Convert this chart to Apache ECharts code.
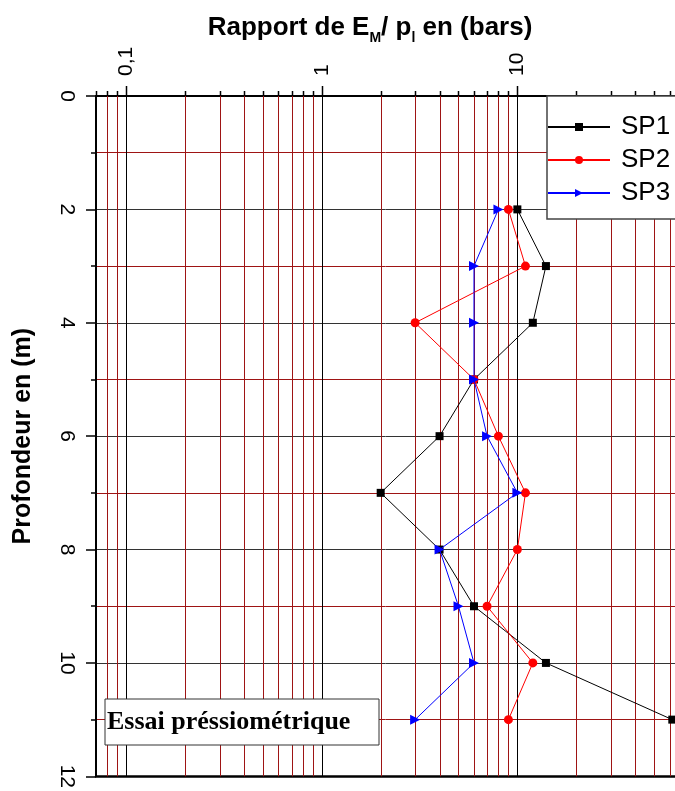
<!DOCTYPE html>
<html><head><meta charset="utf-8">
<script src="https://cdn.jsdelivr.net/npm/echarts@6/dist/echarts.min.js"></script>
<style>html,body{margin:0;padding:0;background:#fff}#c{width:675px;height:791px}</style>
</head><body><div id="c"></div>
<script>
// depth (m)
const depths = [2, 3, 4, 5, 6, 7, 8, 9, 10, 11];
// E_M / p_l ratios
const sp1 = [10, 14, 12, 6, 4, 2, 4, 6, 14, 62];
const sp2 = [9, 11, 3, 6, 8, 11, 10, 7, 12, 9];
const sp3 = [8, 6, 6, 6, 7, 10, 4, 5, 6, 3];
const seriesNames = ['SP1', 'SP2', 'SP3'];
// top axis tick labels (decades)
const xTickValues = [0.1, 1, 10];
const xTickLabels = ['0,1', '1', '10'];
// minor logarithmic grid values
const xMinorValues = [0.07, 0.08, 0.09, 0.2, 0.3, 0.4, 0.5, 0.6, 0.7, 0.8, 0.9,
  2, 3, 4, 5, 6, 7, 8, 9, 20, 30, 40, 50, 60];
// visible range of the (cropped) log axis
const xMin = 0.07, xMax = 64;
const depthMin = 0, depthMax = 12, depthStep = 2;

const chart = echarts.init(document.getElementById('c'), null, {renderer: 'canvas'});
const FONT = '"Liberation Sans", Arial, sans-serif';
const RED = '#9e1414';

function fmtX(v) {
  for (let i = 0; i < xTickValues.length; i++) {
    if (Math.abs(v - xTickValues[i]) / xTickValues[i] < 1e-6) return xTickLabels[i];
  }
  return '';
}
function pairs(vals) { return depths.map((d, i) => [vals[i], d]); }

const gridData = xMinorValues.map(v => [v, depthMin, 0]).concat(xTickValues.map(v => [v, depthMin, 1]));

const option = {
  animation: false,
  backgroundColor: '#fff',
  grid: {left: 96, top: 96, bottom: 11, right: 0, containLabel: false},
  xAxis: [{
    type: 'log', logBase: 10, position: 'top', min: xMin, max: xMax,
    axisLine: {show: true, onZero: false, lineStyle: {color: '#000', width: 2}},
    axisTick: {show: false},
    splitLine: {show: false},
    axisLabel: {rotate: -90, margin: 20, fontSize: 21, color: '#000', fontFamily: FONT,
      formatter: fmtX, showMinLabel: false, showMaxLabel: false}
  }, {
    type: 'log', logBase: 10, position: 'bottom', min: xMin, max: xMax,
    axisLine: {show: true, onZero: false, lineStyle: {color: '#000', width: 2.5}},
    axisTick: {show: false}, axisLabel: {show: false}, splitLine: {show: false}
  }],
  yAxis: {
    type: 'value', inverse: true, min: depthMin, max: depthMax, interval: depthStep,
    axisLine: {show: true, onZero: false, lineStyle: {color: '#000', width: 2}},
    axisTick: {show: true, length: 10, lineStyle: {color: '#000', width: 1.5}},
    minorTick: {show: true, splitNumber: 2, length: 5, lineStyle: {color: '#000', width: 1.5}},
    splitLine: {show: true, lineStyle: {color: '#333', width: 1}},
    minorSplitLine: {show: true, lineStyle: {color: RED, width: 1}},
    axisLabel: {rotate: -90, margin: 19, fontSize: 21, color: '#000', fontFamily: FONT},
    name: 'Profondeur en (m)', nameLocation: 'middle', nameGap: 60, nameRotate: 90,
    nameTextStyle: {fontSize: 25, fontWeight: 'bold', color: '#000', fontFamily: FONT}
  },
  legend: {
    data: seriesNames, orient: 'vertical', left: 547, top: 96,
    backgroundColor: '#fff', borderColor: '#444', borderWidth: 1.5, borderRadius: 0,
    padding: [15, 40, 10, 0], itemGap: 1, itemWidth: 62, itemHeight: 10,
    textStyle: {fontSize: 26, lineHeight: 32, color: '#000', fontFamily: FONT, padding: [0, 0, 0, 6]},
    selectedMode: false
  },
  series: [{
    type: 'custom', silent: true, z: 1, clip: false,
    data: gridData,
    encode: {x: 0, y: 1},
    renderItem: function (params, api) {
      const v = api.value(0);
      const major = api.value(2) === 1;
      const top = api.coord([v, depthMin]);
      const bot = api.coord([v, depthMax]);
      const x = Math.round(top[0]) + 0.5;
      const children = [];
      if (v > xMin * 1.0001) {
        children.push({type: 'line', z2: major ? 2 : 1, shape: {x1: x, y1: top[1], x2: x, y2: bot[1]},
          style: {stroke: major ? '#000' : RED, lineWidth: 1}});
      }
      children.push({type: 'line', shape: {x1: x, y1: top[1], x2: x, y2: top[1] - (major ? 10 : 5)},
        style: {stroke: '#000', lineWidth: 1.5}});
      return {type: 'group', children: children};
    }
  }, {
    name: 'SP1', type: 'line', data: pairs(sp1), symbol: 'rect', symbolSize: 8,
    color: '#000', lineStyle: {color: '#000', width: 1}, itemStyle: {color: '#000'},
    z: 3, silent: true, emphasis: {disabled: true}
  }, {
    name: 'SP2', type: 'line', data: pairs(sp2), symbol: 'circle', symbolSize: 9,
    color: '#ff0000', lineStyle: {color: '#ff0000', width: 1}, itemStyle: {color: '#ff0000'},
    z: 4, silent: true, emphasis: {disabled: true}
  }, {
    name: 'SP3', type: 'line', data: pairs(sp3), symbol: 'triangle', symbolSize: 10, symbolRotate: -90,
    color: '#0000ff', lineStyle: {color: '#0000ff', width: 1}, itemStyle: {color: '#0000ff'},
    z: 5, silent: true, emphasis: {disabled: true}
  }],
  graphic: [{
    type: 'text', x: 370, y: 28, z: 100, silent: true,
    style: {
      text: '{a|Rapport de E}{s|M}{a|/ p}{s|l}{a| en (bars)}',
      align: 'center', verticalAlign: 'middle',
      rich: {
        a: {fontSize: 26, fontWeight: 'bold', fontFamily: FONT, lineHeight: 34, fill: '#000', color: '#000'},
        s: {fontSize: 14, fontWeight: 'bold', fontFamily: FONT, lineHeight: 14, verticalAlign: 'bottom', fill: '#000', color: '#000'}
      }
    }
  }, {
    type: 'rect', z: 100, silent: true,
    shape: {x: 105, y: 699, width: 274, height: 46},
    style: {fill: '#fff', stroke: '#333', lineWidth: 1}
  }, {
    type: 'text', x: 107, y: 722, z: 101, silent: true,
    style: {text: 'Essai préssiométrique', font: 'bold 26px "Liberation Serif", "Times New Roman", serif',
      fill: '#000', align: 'left', verticalAlign: 'middle'}
  }]
};
chart.setOption(option);
</script>
</body></html>
